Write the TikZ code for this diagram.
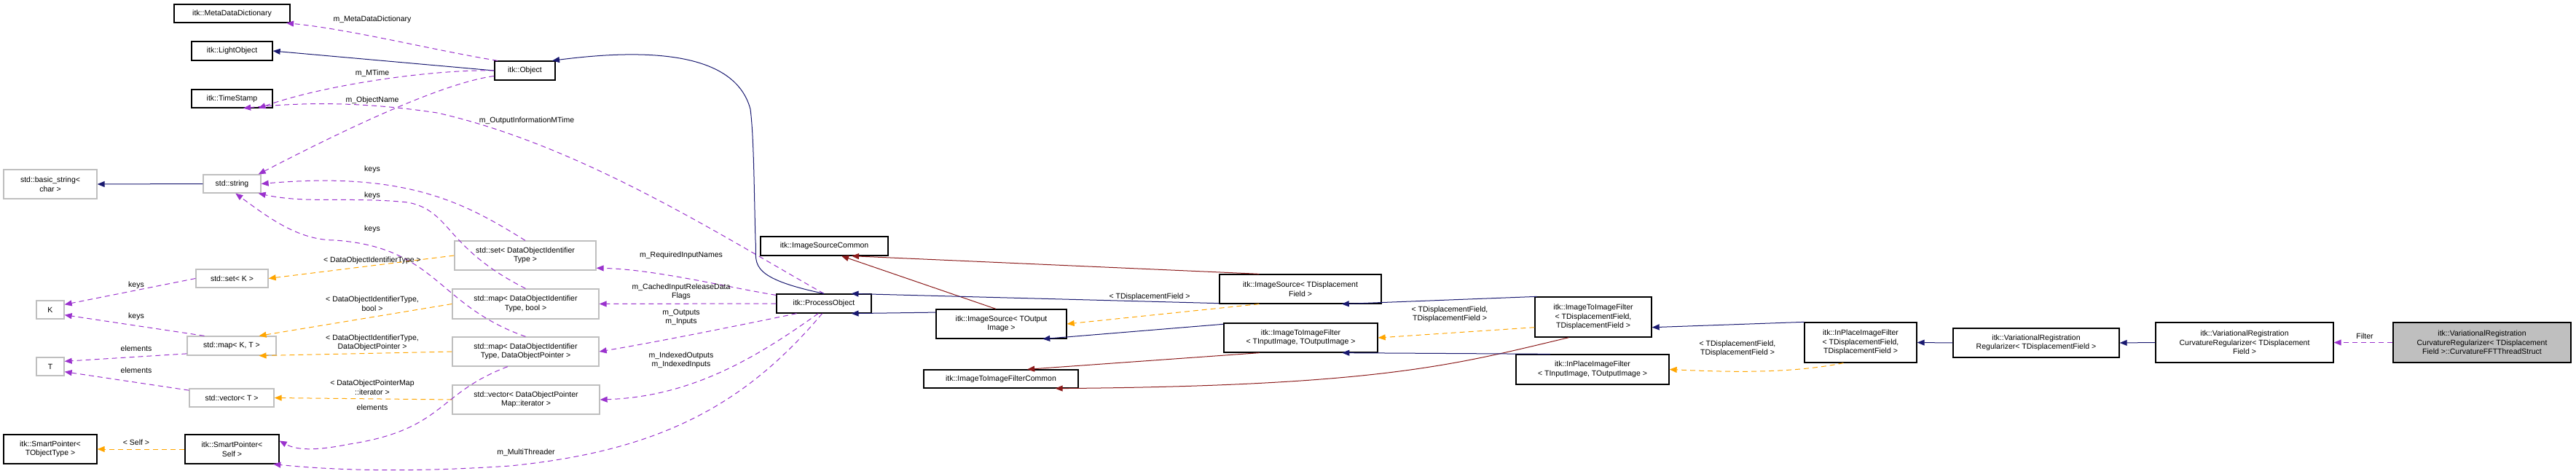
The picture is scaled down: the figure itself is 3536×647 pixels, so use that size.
\documentclass[tikz,border=0pt]{standalone}
\usepackage{fontspec}
\setmainfont{Liberation Sans}
\usetikzlibrary{arrows.meta}
\definecolor{navy}{HTML}{191970}
\definecolor{purp}{HTML}{9A32CD}
\definecolor{orng}{HTML}{FFA500}
\definecolor{dred}{HTML}{8B1A1A}
\definecolor{gbord}{HTML}{BFBFBF}
\tikzset{
 box/.style={draw=black,line width=1.3pt,fill=white,inner sep=0pt,align=center,font=\fontsize{10.5}{12.5}\selectfont},
 gbox/.style={box,draw=gbord},
 lab/.style={font=\fontsize{10.5}{12.5}\selectfont,align=center,inner sep=0pt},
 tip/.style={-{Triangle[length=10pt,width=8pt]}},
 inh/.style={tip,draw=navy,line width=1pt},
 red/.style={tip,draw=dred,line width=1pt},
 use/.style={tip,draw=purp,line width=1pt,dash pattern=on 7pt off 5pt},
 tpl/.style={tip,draw=orng,line width=1pt,dash pattern=on 7pt off 5pt},
}
\newcommand{\bx}[7]{\node[#7,minimum width={(#4-#2)*1pt},minimum height={(#5-#3)*1pt}] (#1) at ({(#2+#4)/2},{(#3+#5)/2}) {#6};}
\begin{document}
\begin{tikzpicture}[x=1pt,y=-1pt]
\useasboundingbox (0,0) rectangle (3536,647);
% nodes
\bx{mdd}{239}{6}{398}{31}{itk::MetaDataDictionary}{box}
\bx{lo}{263}{57}{374}{83}{itk::LightObject}{box}
\bx{ts}{263}{123}{374}{148}{itk::TimeStamp}{box}
\bx{obj}{679}{84}{762}{110}{itk::Object}{box}
\bx{bs}{5}{233}{133}{273}{std::basic\_string\textless\\char \textgreater}{gbox}
\bx{str}{279}{240}{358}{265}{std::string}{gbox}
\bx{setk}{269}{370}{368}{395}{std::set\textless{} K \textgreater}{gbox}
\bx{K}{50}{413}{88}{438}{K}{gbox}
\bx{mapkt}{257}{462}{379}{488}{std::map\textless{} K, T \textgreater}{gbox}
\bx{T}{50}{491}{88}{516}{T}{gbox}
\bx{vect}{260}{534}{376}{559}{std::vector\textless{} T \textgreater}{gbox}
\bx{spo}{5}{597}{133}{637}{itk::SmartPointer\textless\\TObjectType \textgreater}{box}
\bx{sps}{254}{597}{383}{637}{itk::SmartPointer\textless\\Self \textgreater}{box}
\bx{setd}{624}{331}{818}{371}{std::set\textless{} DataObjectIdentifier\\Type \textgreater}{gbox}
\bx{mapb}{621}{397}{822}{438}{std::map\textless{} DataObjectIdentifier\\Type, bool \textgreater}{gbox}
\bx{mapp}{621}{463}{822}{503}{std::map\textless{} DataObjectIdentifier\\Type, DataObjectPointer \textgreater}{gbox}
\bx{veci}{621}{529}{823}{569}{std::vector\textless{} DataObjectPointer\\Map::iterator \textgreater}{gbox}
\bx{po}{1066}{404}{1196}{430}{itk::ProcessObject}{box}
\bx{isc}{1044}{325}{1219}{351}{itk::ImageSourceCommon}{box}
\bx{iso}{1285}{425}{1464}{465}{itk::ImageSource\textless{} TOutput\\Image \textgreater}{box}
\bx{itc}{1268}{508}{1480}{533}{itk::ImageToImageFilterCommon}{box}
\bx{isd}{1674}{377}{1896}{417}{itk::ImageSource\textless{} TDisplacement\\Field \textgreater}{box}
\bx{itio}{1680}{444}{1891}{484}{itk::ImageToImageFilter\\\textless{} TInputImage, TOutputImage \textgreater}{box}
\bx{itdd}{2107}{408}{2267}{463}{itk::ImageToImageFilter\\\textless{} TDisplacementField,\\TDisplacementField \textgreater}{box}
\bx{ipio}{2081}{487}{2291}{528}{itk::InPlaceImageFilter\\\textless{} TInputImage, TOutputImage \textgreater}{box}
\bx{ipdd}{2477}{443}{2631}{498}{itk::InPlaceImageFilter\\\textless{} TDisplacementField,\\TDisplacementField \textgreater}{box}
\bx{vrr}{2681}{451}{2909}{491}{itk::VariationalRegistration\\Regularizer\textless{} TDisplacementField \textgreater}{box}
\bx{vcr}{2959}{443}{3203}{498}{itk::VariationalRegistration\\CurvatureRegularizer\textless{} TDisplacement\\Field \textgreater}{box}
\bx{fft}{3285}{443}{3529}{498}{itk::VariationalRegistration\\CurvatureRegularizer\textless{} TDisplacement\\Field \textgreater::CurvatureFFTThreadStruct}{box,fill=gbord}
% edges
\draw[use] (obj.160) .. controls (600,70) and (480,40) .. (mdd.-10);
\draw[inh] (obj.west) -- (lo.east);
\draw[use] (obj.west) .. controls (600,95) and (450,115) .. (ts.-20);
\draw[use] (po.north) .. controls (1000,330) and (800,200) .. (600,155) .. controls (500,140) and (420,140) .. (ts.-40);
\draw[use] (obj.-170) .. controls (600,115) and (450,190) .. (str.20);
\draw[inh] (str.west) -- (bs.east);
\draw[use] (setd.north) .. controls (640,280) and (560,235) .. (str.east);
\draw[use] (mapb.north) .. controls (610,340) and (620,290) .. (560,278) .. controls (480,270) and (420,280) .. (str.-20);
\draw[use] (mapp.north) .. controls (600,420) and (600,340) .. (460,330) .. controls (410,330) and (370,300) .. (str.-70);
\draw[tpl] (setd.west) -- (setk.east);
\draw[tpl] (mapb.west) -- (mapkt.20);
\draw[tpl] (mapp.west) -- (mapkt.-20);
\draw[tpl] (veci.west) -- (vect.east);
\draw[use] (setk.west) -- (K.20);
\draw[use] (mapkt.160) -- (K.-20);
\draw[use] (mapkt.-170) -- (T.20);
\draw[use] (vect.170) -- (T.-20);
\draw[use] (mapp.-140) .. controls (600,540) and (610,590) .. (480,610) .. controls (440,618) and (410,620) .. (sps.10);
\draw[tpl] (sps.west) -- (spo.east);
\draw[use] (po.-100) .. controls (1020,560) and (900,620) .. (700,640) .. controls (550,650) and (450,645) .. (sps.-20);
\draw[use] (po.170) .. controls (1000,395) and (900,370) .. (setd.-10);
\draw[use] (po.west) -- (mapb.east);
\draw[use] (po.-160) .. controls (1000,450) and (900,470) .. (mapp.east);
\draw[use] (po.-120) .. controls (1040,490) and (950,545) .. (veci.east);
\draw[inh] (po.north) .. controls (1020,380) and (1040,360) .. (1037,330) .. controls (1035,260) and (1035,190) .. (1030,150) .. controls (1010,75) and (900,65) .. (obj.20);
\draw[inh] (iso.170) -- (po.-20);
\draw[red] (iso.110) -- (isc.-30);
\draw[inh] (isd.-170) -- (po.20);
\draw[red] (isd.160) -- (isc.-20);
\draw[tpl] (isd.-160) -- (iso.east);
\draw[inh] (itio.170) -- (iso.-20);
\draw[red] (itio.-160) -- (itc.20);
\draw[inh] (itdd.160) -- (isd.-20);
\draw[tpl] (itdd.-170) -- (itio.east);
\draw[red] (itdd.-140) .. controls (2000,500) and (1900,530) .. (itc.-10);
\draw[inh] (ipio.160) -- (itio.-20);
\draw[inh] (ipdd.160) -- (itdd.-10);
\draw[tpl] (ipdd.-130) .. controls (2450,515) and (2350,510) .. (ipio.east);
\draw[inh] (vrr.west) -- (ipdd.east);
\draw[inh] (vcr.west) -- (vrr.east);
\draw[use] (fft.west) -- (vcr.east);
% labels
\node[lab] (l1) at (511,27) {m\_MetaDataDictionary};
\node[lab] (l2) at (511,101) {m\_MTime};
\node[lab] (l3) at (511,138) {m\_ObjectName};
\node[lab] (l4) at (723,166) {m\_OutputInformationMTime};
\node[lab] (l5) at (511,233) {keys};
\node[lab] (l6) at (511,269) {keys};
\node[lab] (l7) at (511,315) {keys};
\node[lab] (l8) at (511,358) {\textless{} DataObjectIdentifierType \textgreater};
\node[lab] (l9) at (511,417) {\textless{} DataObjectIdentifierType,\\bool \textgreater};
\node[lab] (l10) at (511,471) {\textless{} DataObjectIdentifierType,\\DataObjectPointer \textgreater};
\node[lab] (l11) at (511,532) {\textless{} DataObjectPointerMap\\::iterator \textgreater};
\node[lab] (l12) at (511,560) {elements};
\node[lab] (l13) at (187,392) {keys};
\node[lab] (l14) at (187,435) {keys};
\node[lab] (l15) at (187,479) {elements};
\node[lab] (l16) at (187,509) {elements};
\node[lab] (l17) at (187,608) {\textless{} Self \textgreater};
\node[lab] (l18) at (722,622) {m\_MultiThreader};
\node[lab] (l19) at (935,351) {m\_RequiredInputNames};
\node[lab] (l20) at (935,401) {m\_CachedInputReleaseData\\Flags};
\node[lab] (l21) at (935,436) {m\_Outputs\\m\_Inputs};
\node[lab] (l22) at (935,495) {m\_IndexedOutputs\\m\_IndexedInputs};
\node[lab] (l23) at (1578,408) {\textless{} TDisplacementField \textgreater};
\node[lab] (l24) at (1990,432) {\textless{} TDisplacementField,\\TDisplacementField \textgreater};
\node[lab] (l25) at (2385,479) {\textless{} TDisplacementField,\\TDisplacementField \textgreater};
\node[lab] (l26) at (3246,462) {Filter};
\end{tikzpicture}
\end{document}
